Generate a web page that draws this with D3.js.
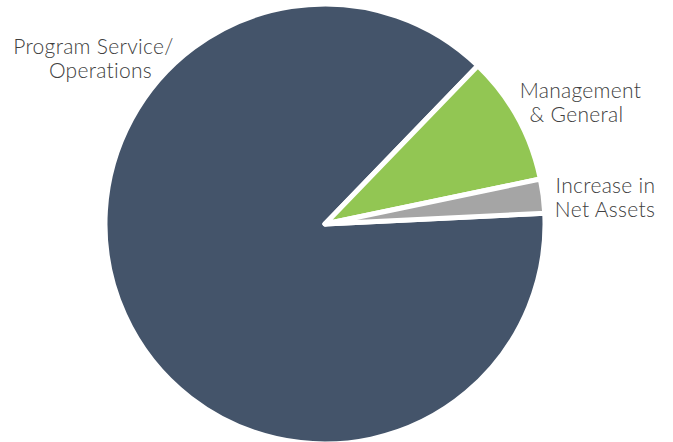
<!DOCTYPE html>
<html>
<head>
<meta charset="utf-8">
<script src="https://cdn.jsdelivr.net/npm/d3@7"></script>
<style>
  body { margin: 0; background: #fff; }
  svg { display: block; }
</style>
</head>
<body>
<svg class="chart-expense-pie"></svg>
<script>

var categories = ["Program Service/Operations", "Management & General", "Increase in Net Assets"];
var shares = [88, 9.5, 2.5];
var labelLines = [["Program Service/", "Operations"], ["Management", "& General"], ["Increase in", "Net Assets"]];
var colors = ["#44546a", "#92c653", "#a5a5a5"];

var width = 673;
var height = 442;
var centerX = 325;
var centerY = 224;
var outerRadius = 220;
var startAngle = 87.2 * Math.PI / 180;

// label line centres and first baselines
var labelX = [[93.5, 100.5], [580.5, 576.5], [605.5, 605]];
var labelY = [53.5, 97.5, 193];
var lineHeight = 24;

var data = categories.map(function(name, i) {
    return {"name": name, "index": i, "value": shares[i], "lines": labelLines[i]};
});

var wrapper = d3.select(".chart-expense-pie").attr("width", width).attr("height", height);
var chart = wrapper.append("g").attr("transform", "translate(" + centerX + ", " + centerY + ")");

var color = d3.scaleOrdinal().domain(d3.range(categories.length)).range(colors);

var pie = d3.pie().sort(null).value(function(d) {
    return d.value;
}).startAngle(startAngle).endAngle(startAngle + 2 * Math.PI);

var arc = d3.arc().innerRadius(0).outerRadius(outerRadius);

chart.selectAll("path").data(pie(data)).enter().append("path")
    .attr("d", arc)
    .attr("fill", function(d) { return color(d.data.index); })
    .attr("stroke", "#ffffff")
    .attr("stroke-width", 5)
    .attr("stroke-linejoin", "round");

var label = wrapper.selectAll(".label").data(data).enter().append("text")
    .attr("class", "label")
    .attr("text-anchor", "middle")
    .style("font-family", "Lato, 'Open Sans', sans-serif")
    .style("font-size", "21px")
    .style("font-weight", "300")
    .style("letter-spacing", "0.3px")
    .style("fill", "#404040");

label.selectAll("tspan").data(function(d) {
    return d.lines.map(function(line) { return {"text": line, "index": d.index}; });
}).enter().append("tspan")
    .attr("x", function(d, i) { return labelX[d.index][i]; })
    .attr("y", function(d, i) { return labelY[d.index] + i * lineHeight; })
    .text(function(d) { return d.text; });

</script>
</body>
</html>
